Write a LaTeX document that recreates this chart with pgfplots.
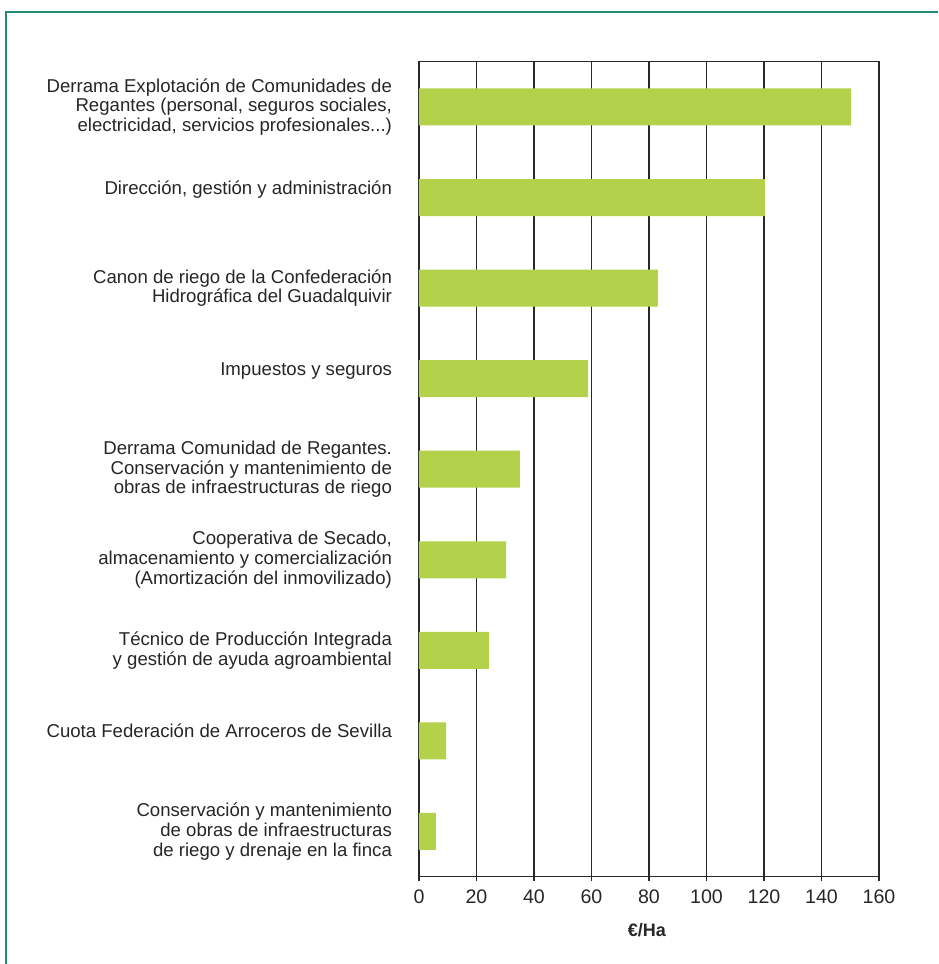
\documentclass[border=0pt]{standalone}
\usepackage{pgfplots}
\pgfplotsset{compat=1.18}
\usepackage{fontspec}
\setmainfont{Liberation Sans}
\definecolor{bargreen}{RGB}{179,209,74}
\definecolor{framegreen}{RGB}{35,140,120}
\definecolor{gridgray}{RGB}{40,40,40}
\begin{document}
\begin{tikzpicture}
% picture is 938x964 px, 1 px = 0.5pt, axis box lower left at px (419,876.7)
\useasboundingbox (-209.5pt,-43.65pt) rectangle (259.5pt,438.35pt);
\draw[framegreen, line width=1pt] (-206.25pt,-43.65pt) -- (-206.25pt,432.35pt) -- (259.5pt,432.35pt);
\begin{axis}[
    at={(0,0)}, anchor=south west,
    scale only axis,
    width=230pt, height=407.5pt,
    xbar,
    bar width=18.5pt,
    xmin=0, xmax=160,
    ymin=-0.5, ymax=8.5,
    y dir=reverse,
    xtick={0,20,...,160},
    ytick={0,1,2,3,4,5,6,7,8},
    minor ytick={-0.5,0.5,1.5,2.5,3.5,4.5,5.5,6.5,7.5,8.5},
    tick pos=left,
    tick align=outside,
    major tick length=2pt,
    minor tick length=2.2pt,
    ytick style={draw=none},
    minor tick style={draw=gridgray, line width=0.6pt},
    xtick style={draw=gridgray, line width=0.6pt},
    xmajorgrids=true,
    grid style={draw=gridgray, line width=0.6pt},
    axis line style={draw=gridgray, line width=0.6pt},
    /pgf/number format/assume math mode=true,
    xticklabel style={font=\fontsize{9.8}{11}\selectfont, text=black!85, yshift=-1.2pt},
    yticklabel style={font=\fontsize{9.3}{9.85}\selectfont, align=right, text=black!85, xshift=-8pt},
    yticklabels={
      {Derrama Explotación de Comunidades de\\Regantes (personal, seguros sociales,\\electricidad, servicios profesionales.{}.{}.)},
      {Dirección, gestión y administración\\\mbox{}},
      {Canon de riego de la Confederación\\Hidrográfica del Guadalquivir},
      {Impuestos y seguros\\\mbox{}},
      {Derrama Comunidad de Regantes.\\Conservación y mantenimiento de\\obras de infraestructuras de riego},
      {Cooperativa de Secado,\\almacenamiento y comercialización\\(Amortización del inmovilizado)},
      {Técnico de Producción Integrada\\y gestión de ayuda agroambiental},
      {Cuota Federación de Arroceros de Sevilla\\\mbox{}},
      {Conservación y mantenimiento\\de obras de infraestructuras\\de riego y drenaje en la finca}
    },
    xlabel={\textbf{€/Ha}},
    xlabel style={font=\fontsize{9}{11}\selectfont, text=black!85, at={(axis description cs:0.5,0)}, anchor=center, yshift=-26.6pt, xshift=-1pt},
]
\addplot[fill=bargreen, draw=none] coordinates {
  (150.3,0)
  (120.3,1)
  (83.1,2)
  (58.8,3)
  (35.1,4)
  (30.3,5)
  (24.3,6)
  (9.4,7)
  (5.9,8)
};
\end{axis}
\end{tikzpicture}
\end{document}
